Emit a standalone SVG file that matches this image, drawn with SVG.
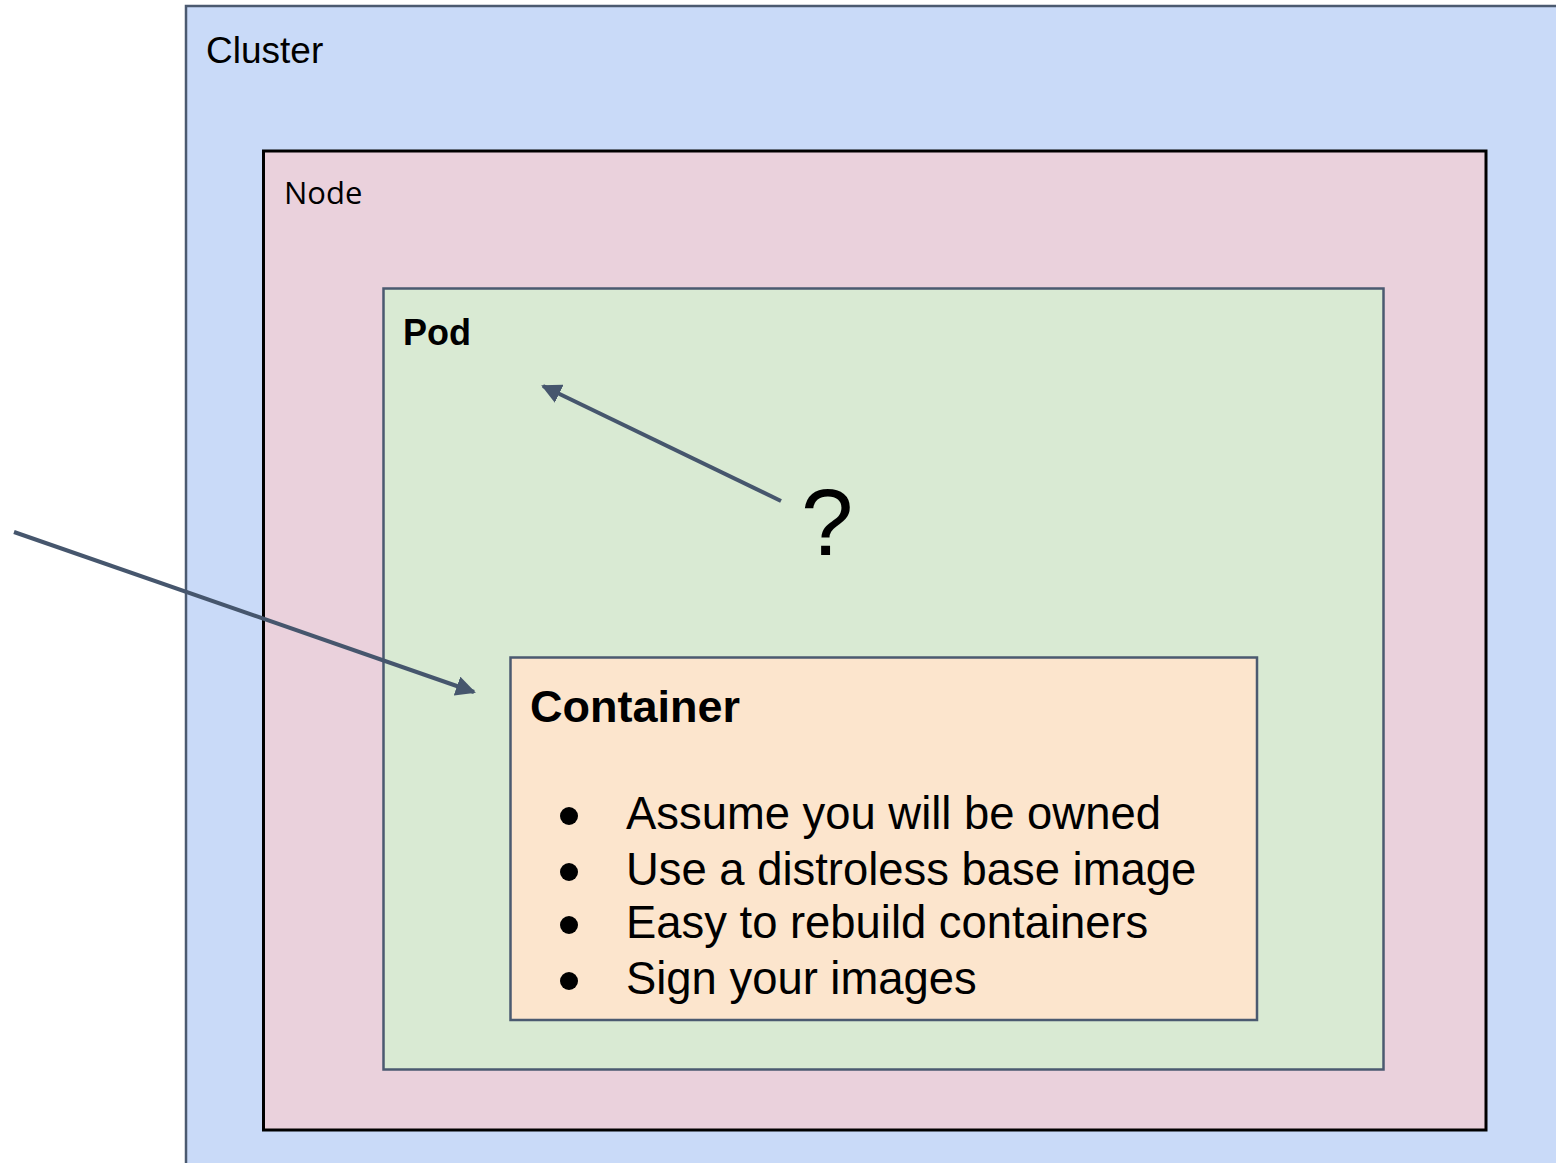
<svg xmlns="http://www.w3.org/2000/svg" width="1556" height="1163" viewBox="0 0 1556 1163">
  <style>
    .box-slate { stroke: #4b5a70; stroke-width: 2.5; }
    .box-black { stroke: #000000; stroke-width: 3; }
    .label { font-family: "Liberation Sans", Arial, sans-serif; fill: #000000; }
    .bold { font-weight: bold; }
    .item { font-family: "Liberation Sans", Arial, sans-serif; font-size: 45.4px; fill: #000000; }
    .conn { stroke: #46566d; stroke-width: 4; fill: none; marker-end: url(#head); }
  </style>
  <defs>
    <marker id="head" viewBox="0 0 10 10" refX="9" refY="5" markerWidth="5" markerHeight="5" markerUnits="strokeWidth" orient="auto">
      <path d="M0,0 L10,5 L0,10 z" fill="#46566d"/>
    </marker>
  </defs>

  <rect x="0" y="0" width="1556" height="1163" fill="#ffffff"/>

  <g id="cluster">
    <rect class="box-slate" x="186" y="6" width="1400" height="1200" fill="#c9daf8"/>
    <text class="label" x="206" y="63" font-size="37">Cluster</text>
  </g>

  <g id="node">
    <rect class="box-black" x="263.5" y="151" width="1222.5" height="979" fill="#ead1dc"/>
    <text x="284" y="204" font-family="'Open Sans', 'Noto Sans', sans-serif" font-size="31" fill="#000000">Node</text>
  </g>

  <g id="pod">
    <rect class="box-slate" x="383.5" y="288.5" width="1000" height="781" fill="#d9ead3"/>
    <text class="label bold" x="403" y="345" font-size="36">Pod</text>
  </g>

  <g id="container">
    <rect class="box-slate" x="510.5" y="657.5" width="746.5" height="362.5" fill="#fce5cd"/>
    <text class="label bold" x="530" y="722" font-size="45">Container</text>
    <g fill="#000000">
      <circle cx="569" cy="816" r="9"/>
      <circle cx="569" cy="872" r="9"/>
      <circle cx="569" cy="925" r="9"/>
      <circle cx="569" cy="981" r="9"/>
    </g>
    <text class="item" x="626" y="829">Assume you will be owned</text>
    <text class="item" x="626" y="885">Use a distroless base image</text>
    <text class="item" x="626" y="938">Easy to rebuild containers</text>
    <text class="item" x="626" y="994">Sign your images</text>
  </g>

  <g id="question">
    <text class="label" x="801" y="555" font-size="94">?</text>
  </g>

  <g id="connectors">
    <line class="conn" x1="14" y1="532" x2="474" y2="692"/>
    <line class="conn" x1="781" y1="501" x2="543" y2="386"/>
  </g>
</svg>
